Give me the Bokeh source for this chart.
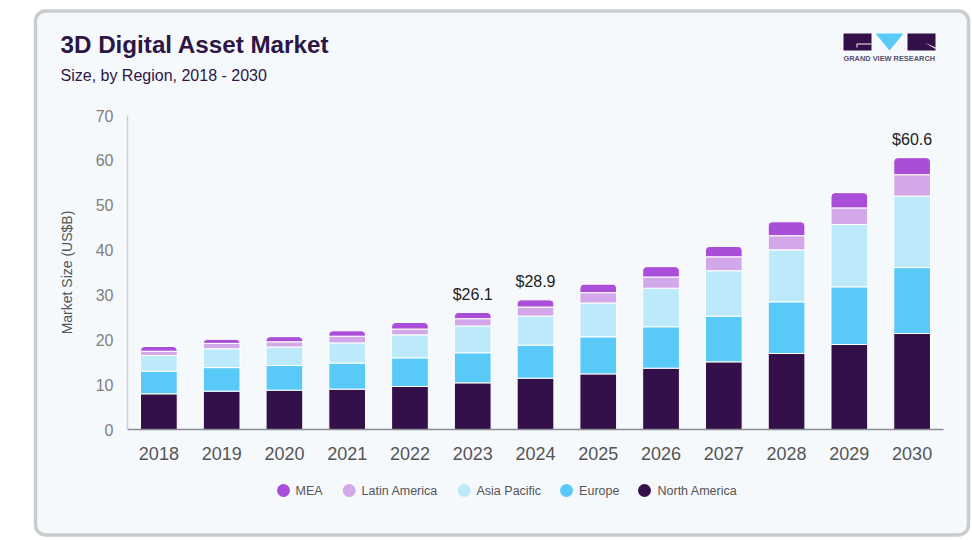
from bokeh.embed import file_html
from bokeh.resources import INLINE
from bokeh.plotting import figure
from bokeh.models import FactorRange, Range1d, ColumnDataSource
from bokeh.core.properties import value
from bokeh.transform import stack

years = ["2018", "2019", "2020", "2021", "2022", "2023", "2024", "2025", "2026", "2027", "2028", "2029", "2030"]
north_america = [7.95, 8.55, 8.77, 9.0, 9.59, 10.4, 11.45, 12.4, 13.67, 15.08, 16.94, 18.95, 21.4]
europe = [5.05, 5.25, 5.5, 5.8, 6.38, 6.7, 7.35, 8.26, 9.23, 10.19, 11.52, 12.85, 14.7]
asia_pacific = [3.5, 4.2, 4.13, 4.5, 5.13, 6.0, 6.5, 7.54, 8.6, 10.13, 11.59, 13.9, 15.95]
latin_america = [0.95, 1.2, 1.15, 1.5, 1.3, 1.6, 2.0, 2.3, 2.5, 3.1, 3.15, 3.7, 4.75]
mea = [1.05, 0.9, 1.15, 1.2, 1.45, 1.4, 1.6, 1.9, 2.3, 2.3, 3.1, 3.4, 3.8]
labelled_years = ["2023", "2024", "2030"]
labelled_text = ["$26.1", "$28.9", "$60.6"]
series_names = ["North America", "Europe", "Asia Pacific", "Latin America", "MEA"]
series_colors = ["#34104a", "#59c9f7", "#bdeafb", "#d3a8ea", "#a84ed8"]

FONT = "Liberation Sans"
W, H = 972, 540  # canvas size

# ---- backdrop figure: its data coordinates are window pixels ----
bg = figure(width=W, height=H, x_range=Range1d(0, W), y_range=Range1d(H, 0),
            output_backend="svg", toolbar_location=None, x_axis_location=None, y_axis_location=None,
            min_border=0, outline_line_color=None)
bg.grid.visible = False
bg.border_fill_color = "white"
bg.background_fill_color = "white"
bg.styles = {"position": "absolute", "left": "0px", "top": "0px"}


def write(x, y, text, size, color, style="normal"):
    bg.text(x=[x], y=[y], text=[text], text_font=value(FONT), text_font_size=size, text_color=color,
            text_font_style=style, text_baseline="middle", text_align="left")


# card
bg.quad(left=[35], right=[968], top=[10.5], bottom=[534.5], fill_color="#f5f9fc", line_color="#c9cdcd",
        line_width=3.5, border_radius=10)
write(60, 44, "3D Digital Asset Market", "24.2px", "#2d1645", "bold")
write(60, 74.5, "Size, by Region, 2018 - 2030", "16px", "#2d1645")

# logo
bg.quad(left=[843, 907], right=[871, 935], top=[33, 33], bottom=[50, 50], fill_color="#34104a", line_color=None)
bg.patch(x=[875, 903, 889], y=[33, 33, 50], fill_color="#59c9f7", line_color=None)
bg.quad(left=[857, 856], right=[871, 857], top=[43, 43], bottom=[44, 47], fill_color="#f5f9fc", line_color=None)
bg.patch(x=[924, 935, 935], y=[42, 47, 48.5], fill_color="#f5f9fc", line_color=None)
write(843, 58, "GRAND VIEW RESEARCH", "7.4px", "#56506a", "bold")

# legend (MEA first, as in the reference)
legend_dot_x = [283, 348.7, 463.7, 566, 644]
legend_text_x = [295, 361, 476, 578.6, 657]
legend_rows = list(zip(reversed(series_names), reversed(series_colors), legend_dot_x, legend_text_x))
for name, color, dot_x, text_x in legend_rows:
    bg.scatter(x=[dot_x], y=[490], marker="circle", size=13, fill_color=color, line_color=None)
    write(text_x, 490, name, "12.5px", "#555555")

# ---- chart figure, laid transparently over the backdrop ----
p = figure(x_range=FactorRange(*years, range_padding=0, factor_padding=0, group_padding=0),
           y_range=Range1d(0, 70), width=W, height=H,
           output_backend="svg", toolbar_location=None,
           min_border_left=127, min_border_right=W - 943,
           min_border_top=115, min_border_bottom=H - 429)
p.background_fill_color = None
p.border_fill_color = None
p.outline_line_color = None
p.grid.visible = False
p.styles = {"position": "absolute", "left": "0px", "top": "0px"}

columns = dict(zip(series_names, [north_america, europe, asia_pacific, latin_america, mea]))
source = ColumnDataSource(dict(year=years, **columns))
so_far = []
for name, color in zip(series_names, series_colors):
    kw = {"border_radius": (4, 4, 0, 0)} if name == "MEA" else {}
    p.vbar(x="year", bottom=stack(*so_far), top=stack(*so_far, name), width=0.585, source=source,
           fill_color=color, line_color="#ffffff", line_width=1, **kw)
    so_far.append(name)

totals = [sum(columns[n][years.index(y)] for n in series_names) for y in labelled_years]
p.text(x=labelled_years, y=totals, text=labelled_text, text_font=value(FONT), text_font_size="16px",
       text_color="#222222", text_align="center", text_baseline="middle", y_offset=-18)

p.xaxis.major_tick_line_color = None
p.xaxis.minor_tick_line_color = None
p.xaxis.axis_line_color = "#8d8d95"
p.xaxis.axis_line_width = 1.5
p.xaxis.major_label_text_font = FONT
p.xaxis.major_label_text_font_size = "18px"
p.xaxis.major_label_text_color = "#555555"
p.xaxis.major_label_standoff = 11

p.yaxis.ticker = [0, 10, 20, 30, 40, 50, 60, 70]
p.yaxis.major_tick_line_color = None
p.yaxis.minor_tick_line_color = None
p.yaxis.axis_line_color = "#cdd0d3"
p.yaxis.axis_line_width = 1.5
p.yaxis.major_label_text_font = FONT
p.yaxis.major_label_text_font_size = "16px"
p.yaxis.major_label_text_color = "#808080"
p.yaxis.major_label_standoff = 8
p.yaxis.axis_label = "Market Size (US$B)"
p.yaxis.axis_label_text_font = FONT
p.yaxis.axis_label_text_font_size = "14px"
p.yaxis.axis_label_text_font_style = "normal"
p.yaxis.axis_label_text_color = "#555555"
p.yaxis.axis_label_standoff = 18

open("out.html", "w").write(file_html([bg, p], INLINE))
